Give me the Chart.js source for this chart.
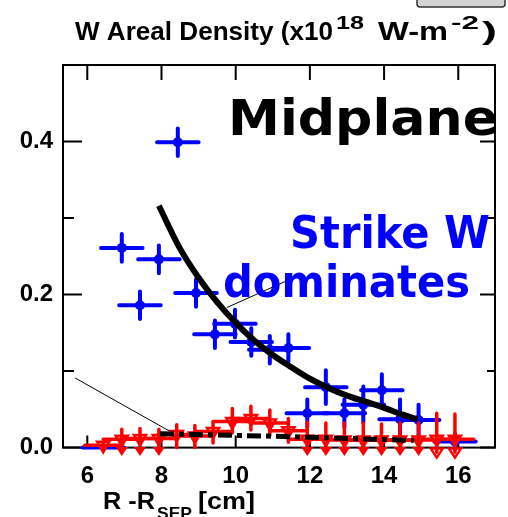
<!DOCTYPE html>
<html>
<head>
<meta charset="utf-8">
<script src="https://cdn.jsdelivr.net/npm/chart.js@4"></script>
<style>
  html, body { margin: 0; padding: 0; background: #fff; }
  #myChart { display: block; }
</style>
</head>
<body>
<canvas id="myChart" width="508" height="517"></canvas>
<script>
// axis ticks
const xTicks = [6, 8, 10, 12, 14, 16];
const yTicks = [0, 0.2, 0.4];
const yMinor = [0.1, 0.3];

// blue points (strike W) with error bars
const blueX = [6.43, 6.93, 7.42, 7.93, 8.44, 8.93, 9.44, 9.98, 10.42, 10.92, 11.42, 11.93, 12.43, 12.93, 13.44, 13.94, 14.43, 14.93, 15.91];
const blueY = [0.0, 0.261, 0.186, 0.246, 0.399, 0.202, 0.148, 0.162, 0.138, 0.128, 0.130, 0.045, 0.079, 0.045, 0.056, 0.075, 0.037, 0.036, 0.008];
const blueYErr = [0, 0.018, 0.018, 0.018, 0.018, 0.018, 0.018, 0.018, 0.018, 0.018, 0.018, 0.018, 0.022, 0.018, 0.024, 0.021, 0.026, 0.02, 0.01];
const blueXErr = 0.56;

// red points with asymmetric error bars
const redX = [6.43, 6.93, 7.42, 7.93, 8.41, 8.90, 9.39, 9.91, 10.41, 10.92, 11.42, 11.93, 12.43, 12.93, 13.44, 13.93, 14.43, 14.93, 15.42, 15.91];
const redY = [0.003, 0.011, 0.012, 0.012, 0.017, 0.015, 0.021, 0.034, 0.038, 0.032, 0.022, 0.011, 0.011, 0.010, 0.010, 0.010, 0.010, 0.010, 0.011, 0.011];
const redHi = [0.008, 0.024, 0.025, 0.024, 0.030, 0.029, 0.034, 0.051, 0.054, 0.049, 0.038, 0.033, 0.032, 0.032, 0.032, 0.031, 0.032, 0.032, 0.045, 0.044];
const redLo = [-0.004, -0.004, -0.004, -0.004, 0.0, 0.0, 0.006, 0.019, 0.023, 0.016, 0.007, -0.004, -0.004, -0.004, -0.004, -0.004, -0.004, -0.004, -0.006, -0.006];
const redCap = [0, 1, 1, 1, 0, 0, 0, 0, 0, 0, 0, 1, 1, 1, 1, 1, 1, 1, 2, 2];
const redXErr = 0.5;

// fitted curves
const fitX = [7.93, 8.5, 9, 9.5, 10, 10.5, 11, 11.5, 12, 12.5, 13, 13.5, 14, 14.5, 14.9];
const fitY = [0.316, 0.26, 0.222, 0.19, 0.163, 0.14, 0.121, 0.105, 0.09, 0.078, 0.068, 0.06, 0.052, 0.043, 0.037];
const dashX = [7.96, 9, 10, 11, 12, 13, 14, 14.8];
const dashY = [0.018, 0.017, 0.016, 0.0148, 0.0135, 0.012, 0.0105, 0.0095];

// thin pointer lines (data coords)
const pointerLines = [
  [5.67, 0.091, 8.31, 0.019],
  [9.76, 0.183, 11.33, 0.217]
];

const pts = (xs, ys) => xs.map((x, i) => ({ x: x, y: ys[i] }));

function fitText(ctx, txt, x, y, w, font, color) {
  ctx.save();
  ctx.font = font;
  ctx.fillStyle = color;
  ctx.textBaseline = 'alphabetic';
  ctx.textAlign = 'left';
  const m = ctx.measureText(txt).width;
  ctx.translate(x, y);
  ctx.scale(w / m, 1);
  ctx.fillText(txt, 0, 0);
  ctx.restore();
}

function downTri(ctx, x, y, r, fill) {
  ctx.beginPath();
  ctx.moveTo(x - r, y - r * 0.6);
  ctx.lineTo(x + r, y - r * 0.6);
  ctx.lineTo(x, y + r * 0.9);
  ctx.closePath();
  if (fill) ctx.fill(); else ctx.stroke();
}

const errorBars = {
  id: 'errorBars',
  beforeDatasetDraw(chart, args) {
    const ctx = chart.ctx;
    const xs = chart.scales.x, ys = chart.scales.y;
    const lbl = chart.data.datasets[args.index].label;
    ctx.save();
    ctx.lineCap = 'round';
    if (lbl === 'red') {
      ctx.strokeStyle = '#ff0000';
      ctx.fillStyle = '#ff0000';
      ctx.lineWidth = 3.5;
      redX.forEach((x, i) => {
        const px = xs.getPixelForValue(x), py = ys.getPixelForValue(redY[i]);
        ctx.beginPath();
        ctx.moveTo(xs.getPixelForValue(x - redXErr), py);
        ctx.lineTo(xs.getPixelForValue(x + redXErr), py);
        ctx.moveTo(px, ys.getPixelForValue(redHi[i]));
        ctx.lineTo(px, ys.getPixelForValue(redLo[i]));
        ctx.stroke();
        if (redCap[i]) {
          ctx.lineWidth = 2.5;
          downTri(ctx, px, ys.getPixelForValue(redLo[i]), 6, redCap[i] === 1);
          ctx.lineWidth = 3.5;
        }
      });
    }
    if (lbl === 'blue') {
      ctx.strokeStyle = '#0000ff';
      ctx.lineWidth = 4;
      blueX.forEach((x, i) => {
        const px = xs.getPixelForValue(x), py = ys.getPixelForValue(blueY[i]);
        ctx.beginPath();
        ctx.moveTo(xs.getPixelForValue(x - blueXErr), py);
        ctx.lineTo(xs.getPixelForValue(x + blueXErr), py);
        if (blueYErr[i] > 0) {
          ctx.moveTo(px, ys.getPixelForValue(blueY[i] + blueYErr[i]));
          ctx.lineTo(px, ys.getPixelForValue(blueY[i] - blueYErr[i]));
        }
        ctx.stroke();
      });
    }
    ctx.restore();
  }
};

const frame = {
  id: 'frame',
  beforeDatasetsDraw(chart) {
    const ctx = chart.ctx, a = chart.chartArea;
    const xs = chart.scales.x, ys = chart.scales.y;
    ctx.save();
    ctx.strokeStyle = '#000';
    ctx.lineWidth = 2;
    ctx.strokeRect(a.left, a.top, a.right - a.left, a.bottom - a.top);
    ctx.beginPath();
    xTicks.forEach(v => {
      const px = xs.getPixelForValue(v);
      ctx.moveTo(px, a.bottom); ctx.lineTo(px, a.bottom - 12);
      ctx.moveTo(px, a.top); ctx.lineTo(px, a.top + 15);
    });
    yTicks.concat([0.5]).forEach(v => {
      const py = ys.getPixelForValue(v);
      ctx.moveTo(a.left, py); ctx.lineTo(a.left + 19, py);
      ctx.moveTo(a.right, py); ctx.lineTo(a.right - 15, py);
    });
    yMinor.forEach(v => {
      const py = ys.getPixelForValue(v);
      ctx.moveTo(a.left, py); ctx.lineTo(a.left + 11, py);
      ctx.moveTo(a.right, py); ctx.lineTo(a.right - 8, py);
    });
    ctx.stroke();
    // thin pointer lines
    ctx.lineWidth = 1;
    ctx.beginPath();
    pointerLines.forEach(l => {
      ctx.moveTo(xs.getPixelForValue(l[0]), ys.getPixelForValue(l[1]));
      ctx.lineTo(xs.getPixelForValue(l[2]), ys.getPixelForValue(l[3]));
    });
    ctx.stroke();
    ctx.restore();
  },
  afterDraw(chart) {
    const ctx = chart.ctx;
    // cut-off box at the top right
    ctx.save();
    ctx.fillStyle = '#d4d4d4';
    ctx.strokeStyle = '#333';
    ctx.lineWidth = 1.5;
    ctx.beginPath();
    ctx.moveTo(417, -2);
    ctx.lineTo(417, 4);
    ctx.quadraticCurveTo(417, 7, 420, 7);
    ctx.lineTo(502, 7);
    ctx.quadraticCurveTo(505, 7, 505, 4);
    ctx.lineTo(505, -2);
    ctx.closePath();
    ctx.fill();
    ctx.stroke();
    ctx.restore();

    const big = 'bold 26px "Liberation Sans", Arial, sans-serif';
    const sup = 'bold 19px "Liberation Sans", Arial, sans-serif';
    fitText(ctx, 'W Areal Density (x10', 75, 40, 258, big, '#000');
    fitText(ctx, '18', 336, 29, 28, sup, '#000');
    fitText(ctx, 'W-m', 378, 40, 70, big, '#000');
    fitText(ctx, '-2', 451, 29, 28, sup, '#000');
    fitText(ctx, ')', 482, 40, 15, big, '#000');

    const lab = 'bold 24px "Liberation Sans", Arial, sans-serif';
    const sub = 'bold 17px "Liberation Sans", Arial, sans-serif';
    fitText(ctx, 'R -R', 103, 509, 52, lab, '#000');
    fitText(ctx, 'SEP', 157, 519, 35, sub, '#000');
    fitText(ctx, '[cm]', 198, 509, 57, lab, '#000');

    const geo = 'bold 50px "DejaVu Sans", sans-serif';
    fitText(ctx, 'Midplane', 228, 135, 270, geo, '#000');
    const geo2 = 'bold 44px "DejaVu Sans", sans-serif';
    fitText(ctx, 'Strike W', 290, 248, 200, geo2, '#0000ff');
    fitText(ctx, 'dominates', 223, 297, 247, geo2, '#0000ff');
  }
};

const ctx = document.getElementById('myChart');
const myChart = new Chart(ctx, {
  type: 'scatter',
  data: {
    datasets: [
      {
        label: 'fit',
        type: 'line',
        data: pts(fitX, fitY),
        borderColor: '#000',
        borderWidth: 6,
        pointRadius: 0,
        cubicInterpolationMode: 'monotone',
        fill: false
      },
      {
        label: 'dash',
        type: 'line',
        data: pts(dashX, dashY),
        borderColor: '#000',
        borderWidth: 5,
        borderDash: [14, 5, 5, 5],
        pointRadius: 0,
        fill: false
      },
      {
        label: 'red',
        data: pts(redX, redY),
        pointStyle: 'triangle',
        rotation: 180,
        pointRadius: 7,
        borderColor: '#ff0000',
        borderWidth: 2.5,
        backgroundColor: 'rgba(255,255,255,0)',
        clip: false
      },
      {
        label: 'blue',
        data: pts(blueX, blueY),
        pointStyle: c => (c.dataIndex === 0 ? 'triangle' : 'circle'),
        rotation: c => (c.dataIndex === 0 ? 180 : 0),
        pointRadius: c => (c.dataIndex === 0 ? 6 : 5),
        borderWidth: 0,
        backgroundColor: '#0000ff',
        clip: false
      }
    ]
  },
  options: {
    responsive: false,
    animation: false,
    layout: { padding: { top: 65, right: 13, left: 0, bottom: 0 } },
    plugins: { legend: { display: false }, tooltip: { enabled: false } },
    scales: {
      x: {
        type: 'linear',
        min: 5.345,
        max: 16.99,
        afterBuildTicks: s => { s.ticks = xTicks.map(v => ({ value: v })); },
        afterFit: s => { s.height = 69.4; },
        grid: { display: false, drawTicks: false },
        border: { display: false },
        ticks: {
          color: '#000',
          padding: 14,
          maxRotation: 0,
          font: { family: 'Liberation Sans', weight: 'bold', size: 24 }
        }
      },
      y: {
        type: 'linear',
        min: 0,
        max: 0.5,
        afterBuildTicks: s => { s.ticks = yTicks.map(v => ({ value: v })); },
        afterFit: s => { s.width = 63; },
        grid: { display: false, drawTicks: false },
        border: { display: false },
        ticks: {
          color: '#000',
          padding: 10,
          callback: v => v.toFixed(1),
          font: { family: 'Liberation Sans', weight: 'bold', size: 24 }
        }
      }
    }
  },
  plugins: [errorBars, frame]
});
</script>
</body>
</html>
